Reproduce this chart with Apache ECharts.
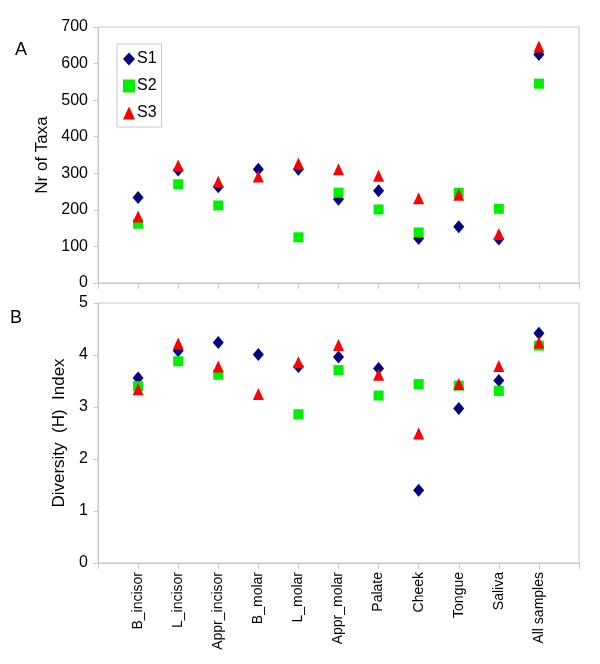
<!DOCTYPE html>
<html>
<head>
<meta charset="utf-8">
<script src="https://cdn.jsdelivr.net/npm/echarts@6/dist/echarts.min.js"></script>
<style>
  html, body { margin: 0; padding: 0; background: #fff; }
  #main { width: 600px; height: 664px; }
</style>
</head>
<body>
<div id="main"></div>
<script>
var chart = echarts.init(document.getElementById('main'));

var sites = ['B_incisor', 'L_incisor', 'Appr_incisor', 'B_molar', 'L_molar', 'Appr_molar',
             'Palate', 'Cheek', 'Tongue', 'Saliva', 'All samples'];

// panel A: number of taxa (null = no point visible)
var taxaS1 = [234, 309, 263, 311, 311, 229, 252, 122, 154, 120, 625];
var taxaS2 = [162, 270, 212, null, 125, 247, 201, 138, 247, 203, 545];
var taxaS3 = [182, 321, 277, 291, 327, 311, 293, 232, 241, 134, 647];

// panel B: diversity (H) index
var divS1 = [3.56, 4.08, 4.24, 4.01, 3.78, 3.96, 3.74, 1.40, 2.97, 3.51, 4.42];
var divS2 = [3.40, 3.88, 3.62, null, 2.86, 3.71, 3.22, 3.44, 3.41, 3.31, 4.18];
var divS3 = [3.34, 4.22, 3.78, 3.25, 3.86, 4.19, 3.62, 2.49, 3.44, 3.79, 4.24];

var taxaTicks = [0, 700, 100];
var divTicks = [0, 5, 1];

function pts(arr) {
  var out = [];
  arr.forEach(function (v, i) { if (v != null) out.push([i + 1, v]); });
  return out;
}

var gray = '#c8c8c8';
var font = 'Liberation Sans, Arial, sans-serif';

function xAxis(idx, showLabels) {
  return {
    type: 'value', gridIndex: idx, min: 0, max: sites.length + 1, interval: 1,
    axisLine: { lineStyle: { color: gray } },
    axisTick: { show: true, length: 6, lineStyle: { color: gray } },
    splitLine: { show: false },
    axisLabel: {
      show: showLabels, rotate: 90, margin: 9, fontSize: 14, color: '#000', fontFamily: font,
      formatter: function (v) { return sites[v - 1] || ''; }
    }
  };
}

function yAxis(idx, ticks, name, gap) {
  return {
    type: 'value', gridIndex: idx, min: ticks[0], max: ticks[1], interval: ticks[2],
    name: name, nameLocation: 'middle', nameGap: gap,
    nameTextStyle: { fontSize: 17, color: '#000', fontFamily: font },
    axisLine: { show: true, lineStyle: { color: gray } },
    axisTick: { show: true, length: 4, lineStyle: { color: gray } },
    splitLine: { show: false },
    axisLabel: { fontSize: 16, color: '#000', margin: 10, fontFamily: font }
  };
}

var s1 = { name: 'S1', symbol: 'diamond', symbolSize: [11, 13], color: '#000080' };
var s2 = { name: 'S2', symbol: 'rect', symbolSize: [10, 10], color: '#00ee00' };
var s3 = { name: 'S3', symbol: 'triangle', symbolSize: [11, 12], color: '#ff0000' };

function series(def, data, idx) {
  return {
    name: def.name, type: 'scatter', xAxisIndex: idx, yAxisIndex: idx,
    symbol: def.symbol, symbolSize: def.symbolSize,
    itemStyle: { color: def.color, opacity: 1 },
    data: pts(data)
  };
}

option = {
  animation: false,
  textStyle: { fontFamily: font },
  grid: [
    { left: 98, top: 27, width: 481, height: 256, show: true, borderColor: gray, borderWidth: 1 },
    { left: 98, top: 303, width: 481, height: 260, show: true, borderColor: gray, borderWidth: 1 }
  ],
  legend: {
    data: ['S1', 'S2', 'S3'],
    orient: 'vertical', left: 117, top: 44,
    itemWidth: 12, itemHeight: 13, itemGap: 11,
    padding: [7, 5, 6, 6],
    borderColor: gray, borderWidth: 1,
    textStyle: { fontSize: 16, color: '#000', padding: [0, 0, 0, -3] }
  },
  graphic: [
    { type: 'text', left: 15, top: 41, style: { text: 'A', fontSize: 18, fill: '#000', fontFamily: font } },
    { type: 'text', left: 10, top: 309, style: { text: 'B', fontSize: 18, fill: '#000', fontFamily: font } }
  ],
  xAxis: [xAxis(0, false), xAxis(1, true)],
  yAxis: [yAxis(0, taxaTicks, 'Nr of Taxa', 41), yAxis(1, divTicks, 'Diversity  (H)  Index', 29)],
  series: [
    series(s1, taxaS1, 0), series(s2, taxaS2, 0), series(s3, taxaS3, 0),
    series(s1, divS1, 1), series(s2, divS2, 1), series(s3, divS3, 1)
  ]
};

chart.setOption(option);
</script>
</body>
</html>
